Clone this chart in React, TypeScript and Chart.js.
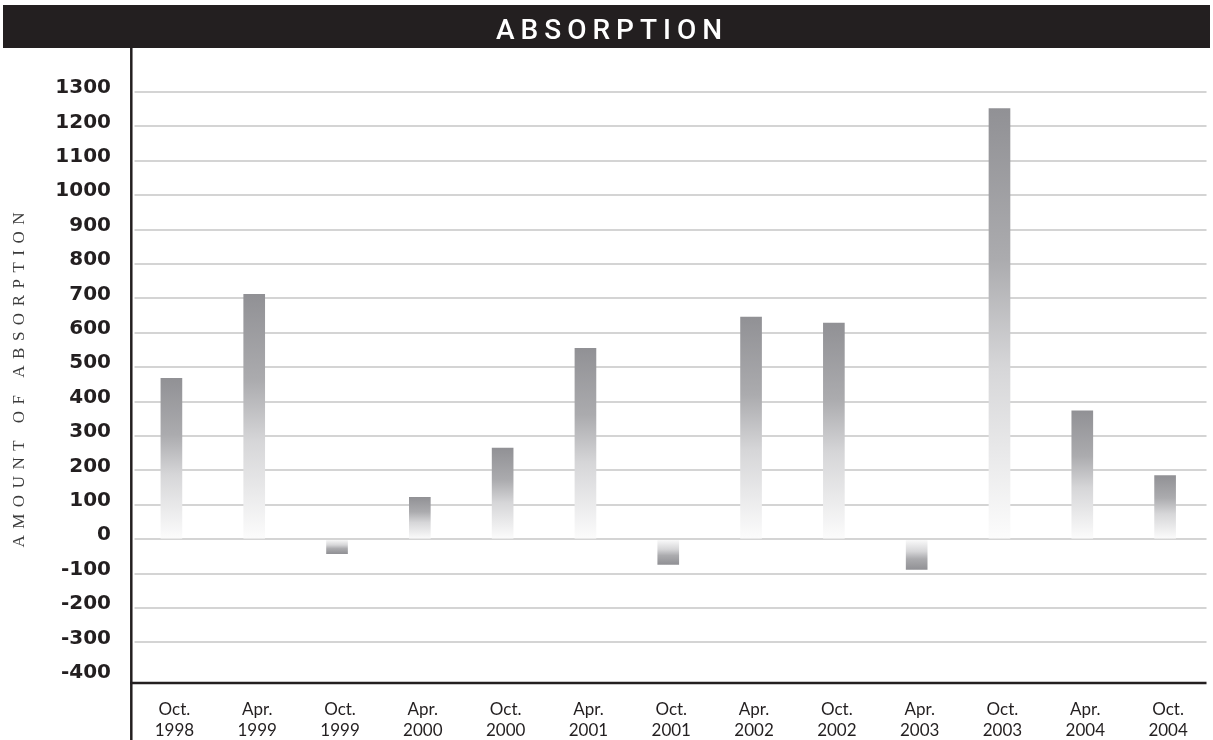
import React, { useEffect, useRef } from 'react';
import { Chart, registerables } from 'chart.js';

Chart.register(...registerables);

const TITLE = 'ABSORPTION';
const Y_TITLE = 'AMOUNT OF ABSORPTION';

const CATEGORIES: string[][] = [
  ['Oct.', '1998'],
  ['Apr.', '1999'],
  ['Oct.', '1999'],
  ['Apr.', '2000'],
  ['Oct.', '2000'],
  ['Apr.', '2001'],
  ['Oct.', '2001'],
  ['Apr.', '2002'],
  ['Oct.', '2002'],
  ['Apr.', '2003'],
  ['Oct.', '2003'],
  ['Apr.', '2004'],
  ['Oct.', '2004'],
];

const ABSORPTION: number[] = [468, 712, -42, 122, 265, 555, -73, 646, 628, -88, 1252, 373, 185];

const Y_TICKS: number[] = [-400, -300, -200, -100, 0, 100, 200, 300, 400, 500, 600, 700, 800, 900, 1000, 1100, 1200, 1300];

const INK = '#231f20';

function barFill(ctx: any) {
  const chart = ctx.chart;
  const { chartArea, scales } = chart;
  if (!chartArea || ctx.type !== 'data' || !scales.y) return '#a8a8ab';
  const v = ctx.raw as number;
  const y0 = scales.y.getPixelForValue(0);
  const y1 = scales.y.getPixelForValue(v);
  if (Math.abs(y0 - y1) < 1) return '#a8a8ab';
  const g = chart.ctx.createLinearGradient(0, y1, 0, y0);
  g.addColorStop(0, '#919195');
  g.addColorStop(0.35, '#ababae');
  g.addColorStop(0.6, '#d6d6d8');
  g.addColorStop(1, '#fcfcfc');
  return g;
}

const decorPlugin = {
  id: 'decor',
  beforeDraw(chart: any) {
    const c = chart.ctx;
    c.save();
    c.fillStyle = '#ffffff';
    c.fillRect(0, 0, chart.width, chart.height);
    c.restore();
  },
  afterDraw(chart: any) {
    const c = chart.ctx;
    const area = chart.chartArea;
    c.save();
    // header bar
    c.fillStyle = INK;
    c.fillRect(3, 5, chart.width - 6, 43);
    c.fillStyle = '#ffffff';
    c.font = '500 28px Roboto, "Liberation Sans", sans-serif';
    (c as any).letterSpacing = '6px';
    c.textAlign = 'left';
    c.textBaseline = 'alphabetic';
    const tw = c.measureText(TITLE).width - 6;
    c.fillText(TITLE, 609 - tw / 2, 39);
    (c as any).letterSpacing = '0px';

    // gap between axis and grid lines
    c.fillStyle = '#ffffff';
    c.fillRect(area.left, area.top - 2, 4.5, area.bottom - area.top);

    // axis lines
    c.strokeStyle = INK;
    c.lineWidth = 2.5;
    c.beginPath();
    c.moveTo(area.left + 1.3, 48);
    c.lineTo(area.left + 1.3, chart.height);
    c.stroke();
    c.beginPath();
    c.moveTo(area.left, area.bottom);
    c.lineTo(area.right, area.bottom);
    c.stroke();

    // y axis title
    c.translate(20, 380);
    c.rotate(-Math.PI / 2);
    c.fillStyle = '#3c3c3c';
    c.font = '17px "Liberation Serif", "DejaVu Serif", serif';
    (c as any).letterSpacing = '6.5px';
    c.textBaseline = 'middle';
    const yw = c.measureText(Y_TITLE).width - 6.5;
    c.fillText(Y_TITLE, -yw / 2, 0);
    c.restore();
  },
};

export default function App() {
  const canvasRef = useRef<HTMLCanvasElement | null>(null);

  useEffect(() => {
    const canvas = canvasRef.current;
    if (!canvas) return;
    const chart = new Chart(canvas, {
      type: 'bar',
      data: {
        labels: CATEGORIES,
        datasets: [
          {
            data: ABSORPTION,
            backgroundColor: barFill,
            borderWidth: 0,
            barThickness: 21,
          },
        ],
      },
      options: {
        responsive: false,
        animation: false,
        devicePixelRatio: 1,
        layout: { padding: { top: 92, right: 6.5, bottom: 0, left: 0 } },
        plugins: {
          legend: { display: false },
          tooltip: { enabled: false },
          title: { display: false },
        },
        scales: {
          x: {
            offset: true,
            grid: { display: false },
            border: { display: false },
            afterFit: (s: any) => {
              s.height = 57;
            },
            ticks: {
              autoSkip: false,
              maxRotation: 0,
              minRotation: 0,
              padding: 8,
              labelOffset: 3,
              color: INK,
              font: { family: 'Lato, "Liberation Sans", sans-serif', size: 17, lineHeight: 1.22 },
            },
          },
          y: {
            min: -418,
            max: 1300,
            afterBuildTicks: (s: any) => {
              s.ticks = Y_TICKS.map((v) => ({ value: v }));
            },
            afterFit: (s: any) => {
              s.width = 130;
            },
            border: { display: false },
            grid: {
              drawTicks: false,
              lineWidth: 2,
              color: (ctx: any) => (ctx.tick && ctx.tick.value === -400 ? 'rgba(0,0,0,0)' : '#d4d4d4'),
            },
            ticks: {
              padding: 19,
              labelOffset: -4,
              color: INK,
              font: { family: '"DejaVu Sans", sans-serif', weight: 'bold', size: 20 },
              callback: (v: any) => String(v),
            },
          },
        },
      },
      plugins: [decorPlugin],
    });
    return () => chart.destroy();
  }, []);

  return (
    <div style={{ position: 'absolute', left: 0, top: 0, width: 1213, height: 740 }}>
      <canvas ref={canvasRef} width={1213} height={740} style={{ display: 'block', width: 1213, height: 740 }} />
    </div>
  );
}
